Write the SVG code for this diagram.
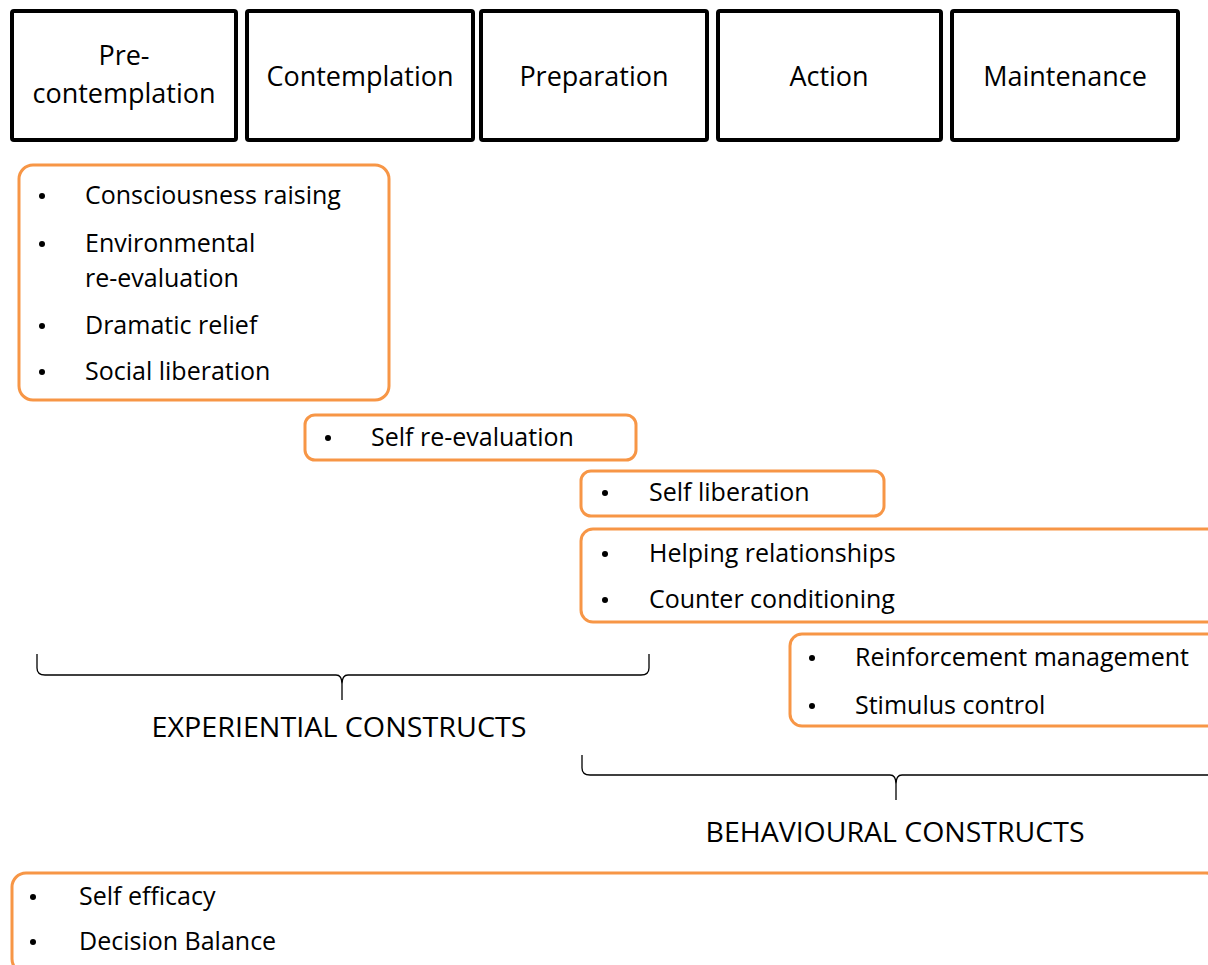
<svg xmlns="http://www.w3.org/2000/svg" width="1208" height="965" viewBox="0 0 1208 965">
  <style>
    .stage { fill: #ffffff; stroke: #000000; stroke-width: 4; }
    .stage-label { font-family: "Open Sans", "Noto Sans", sans-serif; font-size: 27px; fill: #000000; text-anchor: middle; }
    .group { fill: #ffffff; stroke: #F79646; stroke-width: 3; }
    .item { font-family: "Open Sans", "Noto Sans", sans-serif; font-size: 25px; fill: #000000; }
    .bullet { fill: #000000; }
    .brace { fill: none; stroke: #000000; stroke-width: 1.3; }
    .caption { font-family: "Open Sans", "Noto Sans", sans-serif; font-size: 27px; fill: #000000; text-anchor: middle; }
  </style>
  <rect width="1208" height="965" fill="#ffffff"/>

  <!-- Stages of change -->
  <g id="stage-precontemplation">
    <rect class="stage" x="12" y="11" width="224" height="129" rx="2"/>
    <text class="stage-label" x="124" y="65">Pre-</text>
    <text class="stage-label" x="124" y="103">contemplation</text>
  </g>
  <g id="stage-contemplation">
    <rect class="stage" x="247" y="11" width="226" height="129" rx="2"/>
    <text class="stage-label" x="360" y="86">Contemplation</text>
  </g>
  <g id="stage-preparation">
    <rect class="stage" x="481" y="11" width="226" height="129" rx="2"/>
    <text class="stage-label" x="594" y="86">Preparation</text>
  </g>
  <g id="stage-action">
    <rect class="stage" x="718" y="11" width="223" height="129" rx="2"/>
    <text class="stage-label" x="829" y="86">Action</text>
  </g>
  <g id="stage-maintenance">
    <rect class="stage" x="952" y="11" width="226" height="129" rx="2"/>
    <text class="stage-label" x="1065" y="86">Maintenance</text>
  </g>

  <!-- Processes of change -->
  <g id="group-early">
    <rect class="group" x="19" y="165" width="370" height="235" rx="14"/>
    <circle class="bullet" cx="42" cy="196" r="3"/>
    <text class="item" x="85" y="204">Consciousness raising</text>
    <circle class="bullet" cx="42" cy="244" r="3"/>
    <text class="item" x="85" y="252">Environmental</text>
    <text class="item" x="85" y="287">re-evaluation</text>
    <circle class="bullet" cx="42" cy="326" r="3"/>
    <text class="item" x="85" y="334">Dramatic relief</text>
    <circle class="bullet" cx="42" cy="372" r="3"/>
    <text class="item" x="85" y="380">Social liberation</text>
  </g>
  <g id="group-self-reevaluation">
    <rect class="group" x="305" y="415" width="331" height="45" rx="10"/>
    <circle class="bullet" cx="328" cy="438" r="3"/>
    <text class="item" x="371" y="446">Self re-evaluation</text>
  </g>
  <g id="group-self-liberation">
    <rect class="group" x="581" y="471" width="303" height="45" rx="10"/>
    <circle class="bullet" cx="605" cy="493" r="3"/>
    <text class="item" x="649" y="501">Self liberation</text>
  </g>
  <g id="group-helping">
    <rect class="group" x="581" y="529" width="640" height="93" rx="12"/>
    <circle class="bullet" cx="605" cy="554" r="3"/>
    <text class="item" x="649" y="562">Helping relationships</text>
    <circle class="bullet" cx="605" cy="600" r="3"/>
    <text class="item" x="649" y="608">Counter conditioning</text>
  </g>
  <g id="group-reinforcement">
    <rect class="group" x="790" y="634" width="430" height="92" rx="12"/>
    <circle class="bullet" cx="812" cy="658" r="3"/>
    <text class="item" x="855" y="666">Reinforcement management</text>
    <circle class="bullet" cx="812" cy="706" r="3"/>
    <text class="item" x="855" y="714">Stimulus control</text>
  </g>
  <g id="group-core">
    <rect class="group" x="12" y="873" width="1208" height="100" rx="14"/>
    <circle class="bullet" cx="33" cy="897" r="3"/>
    <text class="item" x="79" y="905">Self efficacy</text>
    <circle class="bullet" cx="33" cy="942" r="3"/>
    <text class="item" x="79" y="950">Decision Balance</text>
  </g>

  <!-- Braces grouping the constructs -->
  <g id="connectors">
    <path class="brace" d="M37,654 L37,668 Q37,675 45,675 L336,675 Q342,675 342,684 L342,700 M342,684 Q342,675 348,675 L641,675 Q649,675 649,668 L649,654"/>
    <path class="brace" d="M582,755 L582,768 Q582,775 590,775 L890,775 Q896,775 896,784 L896,800 M896,784 Q896,775 902,775 L1212,775"/>
  </g>
  <g id="label-experiential">
    <text class="caption" x="339" y="737" textLength="375" lengthAdjust="spacingAndGlyphs">EXPERIENTIAL CONSTRUCTS</text>
  </g>
  <g id="label-behavioural">
    <text class="caption" x="895" y="842" textLength="379" lengthAdjust="spacingAndGlyphs">BEHAVIOURAL CONSTRUCTS</text>
  </g>
</svg>
